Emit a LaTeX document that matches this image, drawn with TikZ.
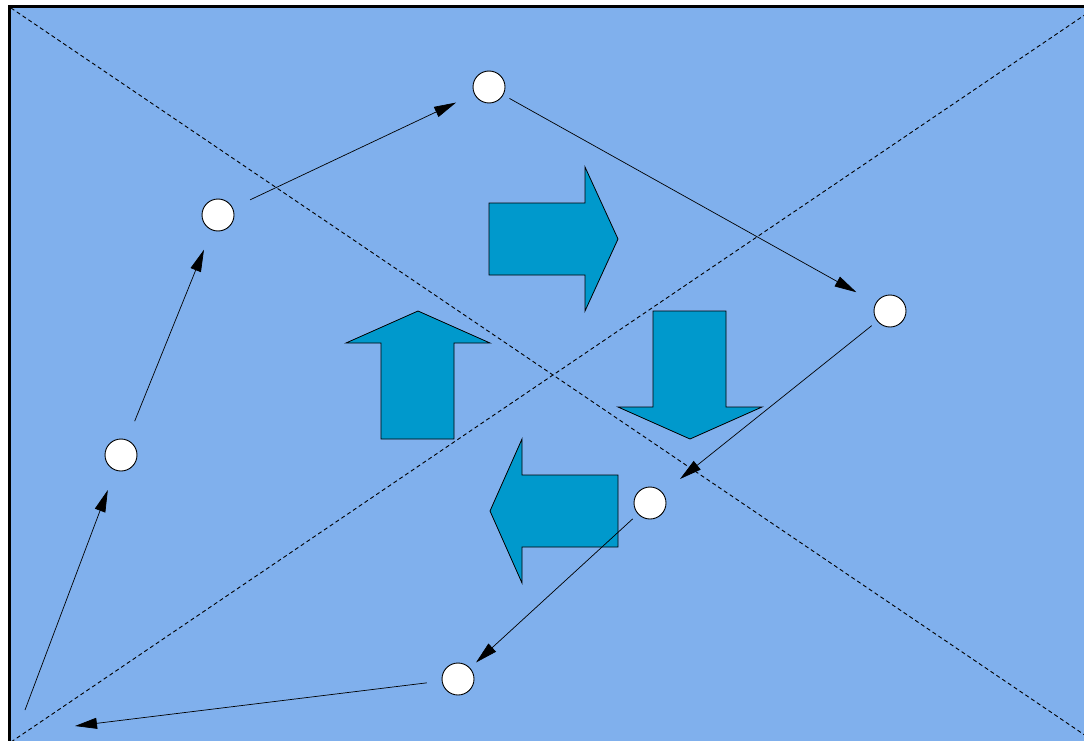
\documentclass[tikz,border=0pt]{standalone}
\usetikzlibrary{arrows.meta}
\definecolor{bgblue}{RGB}{128,176,237}
\definecolor{arrowblue}{RGB}{0,153,204}
\begin{document}
\begin{tikzpicture}[x=1pt,y=-1pt,
  dot/.style={circle,draw=black,line width=0.9pt,fill=white,minimum size=32pt,inner sep=0pt},
  conn/.style={draw=black,line width=0.7pt,-{Triangle[length=22pt,width=11pt]}},
  diag/.style={draw=black,line width=0.9pt,dash pattern=on 4pt off 3pt},
  bigarrow/.style={fill=arrowblue,draw=black,line width=0.8pt,line join=miter}]
\useasboundingbox (0,0) rectangle (1084,741);
\begin{scope}
\clip (0,0) rectangle (1084,741);
\fill[bgblue] (9.5,6.5) rectangle (1096.5,743.5);
\draw[diag] (11,8) -- (1095,742);
\draw[diag] (11,742) -- (1095,8);
% big arrows
\path[bigarrow] (489,203) -- (585,203) -- (585,167) -- (618,239) -- (585,311) -- (585,275) -- (489,275) -- cycle;
\path[bigarrow] (653,311) -- (726,311) -- (726,407) -- (762,407) -- (690,439) -- (618,407) -- (653,407) -- cycle;
\path[bigarrow] (418,311) -- (490,343) -- (454,343) -- (454,439) -- (381,439) -- (381,343) -- (346,343) -- cycle;
\path[bigarrow] (490,511) -- (522,439) -- (522,475) -- (618,475) -- (618,547) -- (522,547) -- (522,583) -- cycle;
% circles
\node[dot] (c1) at (121,455) {};
\node[dot] (c2) at (218,215) {};
\node[dot] (c3) at (489,87) {};
\node[dot] (c4) at (890,311) {};
\node[dot] (c5) at (650,503) {};
\node[dot] (c6) at (458,679) {};
\coordinate (s) at (25,710);
\coordinate (e) at (75,726);
% connectors
\draw[conn,shorten >=21pt] (s) -- (c1);
\draw[conn,shorten <=20pt,shorten >=21pt] (c1) -- (c2);
\draw[conn,shorten <=19pt,shorten >=20pt] (c2) -- (c3);
\draw[conn,shorten <=7pt,shorten >=22pt] (c3) -- (c4);
\draw[conn,shorten <=7pt,shorten >=22pt] (c4) -- (c5);
\draw[conn,shorten <=7pt,shorten >=8pt] (c5) -- (c6);
\draw[conn,shorten <=15pt] (c6) -- (e);
\end{scope}
\draw[black,line width=3pt] (9.5,743) -- (9.5,6.5) -- (1084,6.5);
\end{tikzpicture}
\end{document}
